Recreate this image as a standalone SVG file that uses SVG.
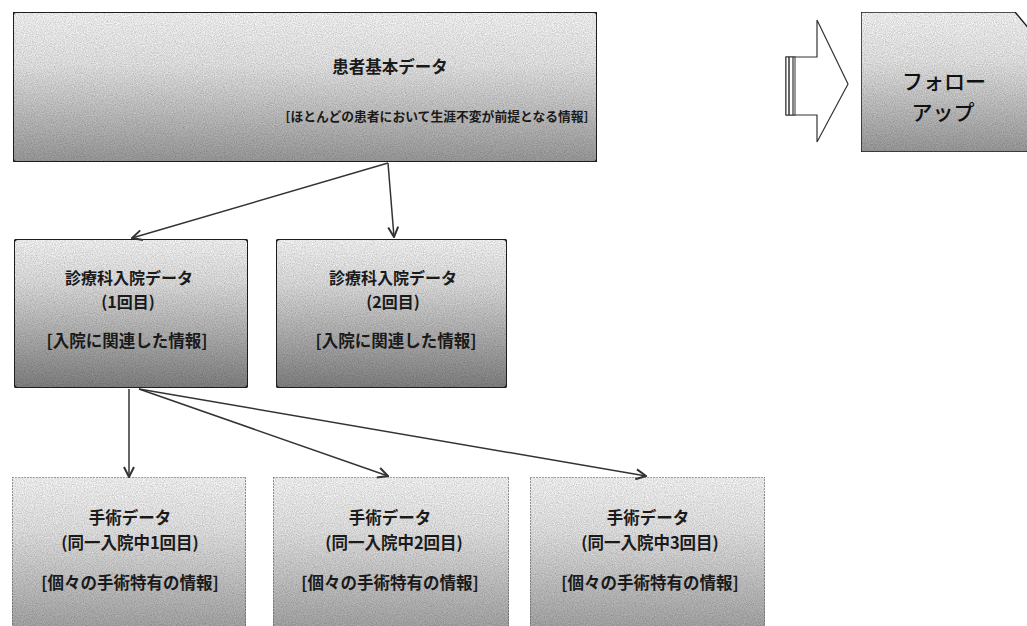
<svg xmlns="http://www.w3.org/2000/svg" width="1027" height="626" viewBox="0 0 1027 626">
<style>
.t{font-family:"Noto Sans CJK JP","Noto Sans",sans-serif;font-weight:bold;fill:#1a1a1a;text-anchor:middle}
.f{font-family:"Noto Sans CJK JP","Noto Sans",sans-serif;font-weight:500;fill:#111;text-anchor:middle;font-size:21px}
.box{stroke:#222;stroke-width:2}
.box3{stroke:#666;stroke-width:1.2;stroke-dasharray:2 1}
.edge{stroke:#333;stroke-width:1.5;fill:none;marker-end:url(#ah)}
</style>
<defs>
<linearGradient id="g1" x1="0" y1="0" x2="0" y2="1">
<stop offset="0" stop-color="#ffffff"/><stop offset="0.35" stop-color="#eeeeee"/><stop offset="1" stop-color="#a0a0a0"/>
</linearGradient>
<linearGradient id="g2" x1="0" y1="0" x2="0" y2="1">
<stop offset="0" stop-color="#ffffff"/><stop offset="0.3" stop-color="#e6e6e6"/><stop offset="1" stop-color="#858585"/>
</linearGradient>
<linearGradient id="g3" x1="0" y1="0" x2="0" y2="1">
<stop offset="0" stop-color="#ffffff"/><stop offset="0.35" stop-color="#ececec"/><stop offset="1" stop-color="#ababab"/>
</linearGradient>
<filter id="noise" x="0" y="0" width="1" height="1">
<feTurbulence type="fractalNoise" baseFrequency="0.9" numOctaves="2" seed="3" result="n"/>
<feColorMatrix in="n" type="matrix" values="0 0 0 0 0.5  0 0 0 0 0.5  0 0 0 0 0.5  0 0 0 -1.2 1" result="m"/>
<feComposite in="m" in2="SourceGraphic" operator="in" result="c"/>
<feBlend in="SourceGraphic" in2="c" mode="multiply"/>
</filter>
<marker id="ah" viewBox="0 0 12 12" refX="11" refY="6" markerWidth="12" markerHeight="12" markerUnits="userSpaceOnUse" orient="auto">
<path d="M1,1 L11,6 L1,11" fill="none" stroke="#333" stroke-width="2"/>
</marker>
</defs>

<g id="node-patient">
<rect class="box" x="13" y="12" width="584" height="150" rx="3" fill="url(#g1)" filter="url(#noise)"/>
<text class="t" x="390" y="73" font-size="16.5">患者基本データ</text>
<text class="t" x="437" y="121" font-size="12.8">[ほとんどの患者において生涯不変が前提となる情報]</text>
</g>

<g id="block-arrow">
<path d="M786,57 L817,57 L817,20 L848,84 L817,142 L817,115 L786,115 Z" fill="#fff" stroke="#333" stroke-width="1.2"/>
<rect x="786" y="57" width="9" height="58" fill="#fff" stroke="#333" stroke-width="1"/>
<line x1="789" y1="57" x2="789" y2="115" stroke="#333" stroke-width="1.5"/>
<line x1="793" y1="57" x2="793" y2="115" stroke="#333" stroke-width="1.2"/>
</g>

<g id="node-followup">
<path d="M861,12 L1015,12 L1030,30 L1030,152 L861,152 Z" fill="url(#g1)" filter="url(#noise)" stroke="#222" stroke-width="1.5"/>
<text class="f" x="944" y="89">フォロー</text>
<text class="f" x="943" y="120">アップ</text>
</g>

<g id="node-adm1">
<rect class="box" x="14" y="239" width="234" height="149" rx="4" fill="url(#g2)" filter="url(#noise)"/>
<text class="t" x="129" y="284" font-size="16">診療科入院データ</text>
<text class="t" x="128" y="308" font-size="16">(1回目)</text>
<text class="t" x="127" y="347" font-size="16.5">[入院に関連した情報]</text>
</g>

<g id="node-adm2">
<rect class="box" x="276" y="239" width="231" height="149" rx="4" fill="url(#g2)" filter="url(#noise)"/>
<text class="t" x="393" y="284" font-size="16">診療科入院データ</text>
<text class="t" x="393" y="308" font-size="16">(2回目)</text>
<text class="t" x="396" y="347" font-size="16.5">[入院に関連した情報]</text>
</g>

<g id="node-op1">
<rect class="box3" x="12" y="477" width="234" height="152" fill="url(#g3)" filter="url(#noise)"/>
<text class="t" x="130" y="524" font-size="16.5">手術データ</text>
<text class="t" x="130" y="549" font-size="16.5">(同一入院中1回目)</text>
<text class="t" x="130" y="589" font-size="16.5">[個々の手術特有の情報]</text>
</g>

<g id="node-op2">
<rect class="box3" x="273" y="477" width="236" height="152" fill="url(#g3)" filter="url(#noise)"/>
<text class="t" x="390" y="524" font-size="16.5">手術データ</text>
<text class="t" x="394" y="549" font-size="16.5">(同一入院中2回目)</text>
<text class="t" x="390" y="589" font-size="16.5">[個々の手術特有の情報]</text>
</g>

<g id="node-op3">
<rect class="box3" x="530" y="477" width="235" height="152" fill="url(#g3)" filter="url(#noise)"/>
<text class="t" x="648" y="524" font-size="16.5">手術データ</text>
<text class="t" x="650" y="549" font-size="16.5">(同一入院中3回目)</text>
<text class="t" x="650" y="589" font-size="16.5">[個々の手術特有の情報]</text>
</g>

<g id="connectors">
<path class="edge" d="M388,163 L132,238"/>
<path class="edge" d="M388,163 L394,237"/>
<path class="edge" d="M129,389 L129,477"/>
<path class="edge" d="M139,389 L388,476"/>
<path class="edge" d="M139,389 L646,476"/>
</g>
</svg>
